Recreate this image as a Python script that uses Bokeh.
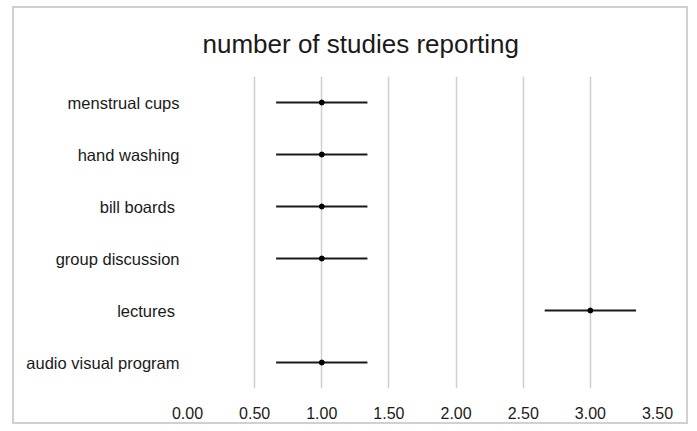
from bokeh.plotting import figure
from bokeh.models import Range1d, FixedTicker, NumeralTickFormatter, Title, ColumnDataSource
from bokeh.embed import file_html
from bokeh.resources import INLINE

categories = ["menstrual cups", "hand washing", "bill boards ", "group discussion", "lectures ", "audio visual program"]
studies = [1, 1, 1, 1, 3, 1]
lower = [0.66, 0.66, 0.66, 0.66, 2.66, 0.66]
upper = [1.34, 1.34, 1.34, 1.34, 3.34, 1.34]
x_ticks = [0.0, 0.5, 1.0, 1.5, 2.0, 2.5, 3.0, 3.5]
title_text = "number of studies reporting"

src = ColumnDataSource(dict(cat=categories, n=studies, lo=lower, hi=upper))

p = figure(width=676, height=418, y_range=list(reversed(categories)),
           x_range=Range1d(0, 3.5), output_backend="svg", toolbar_location=None,
           min_border_left=173, min_border_right=33, min_border_top=67, min_border_bottom=38,
           styles={"border": "2px solid #d0d0d0", "margin-left": "12px", "margin-top": "6px"})
p.title = None
t = Title(text=title_text, align="left", offset=15, text_font="Liberation Sans",
          text_font_size="26px", text_font_style="normal", text_color="#1a1a1a",
          vertical_align="bottom", standoff=36)
p.add_layout(t, "above")

p.outline_line_color = None
p.background_fill_color = "white"
p.border_fill_color = "white"

p.xgrid.ticker = FixedTicker(ticks=x_ticks)
p.xgrid.grid_line_color = "#cfcfcf"
p.xgrid.grid_line_width = 1.5
p.ygrid.grid_line_color = None

p.xaxis.ticker = FixedTicker(ticks=x_ticks)
p.xaxis.formatter = NumeralTickFormatter(format="0.00")
p.xaxis.axis_line_color = None
p.xaxis.major_tick_line_color = None
p.xaxis.minor_tick_line_color = None
p.xaxis.major_label_standoff = 12
p.xaxis.major_label_text_font = "Liberation Sans"
p.xaxis.major_label_text_font_size = "16px"
p.xaxis.major_label_text_color = "#1a1a1a"

p.yaxis.axis_line_color = None
p.yaxis.major_tick_line_color = None
p.yaxis.minor_tick_line_color = None
p.yaxis.major_label_standoff = 2
p.yaxis.major_label_text_font = "Liberation Sans"
p.yaxis.major_label_text_font_size = "16.5px"
p.yaxis.major_label_text_color = "#1a1a1a"

p.segment(x0="lo", y0="cat", x1="hi", y1="cat", source=src, line_color="#1a1a1a", line_width=1.8)
p.scatter(x="n", y="cat", source=src, size=5, fill_color="black", line_color="black")

open("out.html", "w").write(file_html(p, INLINE))
